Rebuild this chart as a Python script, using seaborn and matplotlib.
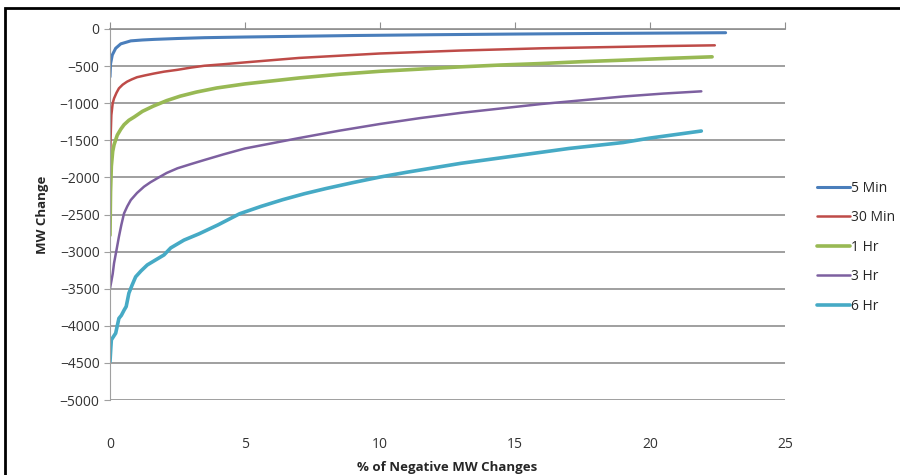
import pandas as pd
import matplotlib.pyplot as plt
import seaborn as sns
from matplotlib.patches import Rectangle

# --- DATA ---
series_names = ["5 Min", "30 Min", "1 Hr", "3 Hr", "6 Hr"]

x_5min = [0, 0.02, 0.085, 0.21, 0.4, 0.77, 1.2, 1.63, 2.5, 3.5, 5, 7, 9, 12, 15, 18, 21, 22.8]
y_5min = [-645, -470, -350, -260, -200, -160, -148, -140, -128, -117, -108, -98, -88, -77, -68, -60,
          -54, -50]

x_30min = [0, 0.02, 0.05, 0.1, 0.15, 0.24, 0.33, 0.47, 0.63, 0.8, 1.0, 1.3, 1.63, 2.0, 2.5, 3.0, 3.5,
           4.2, 5, 6, 7, 8.5, 10, 11.5, 13, 14.5, 16, 17.5, 19, 20.5, 22.4]
y_30min = [-1850, -1500, -1160, -1000, -935, -860, -800, -750, -710, -680, -650, -625, -600, -575,
           -550, -520, -495, -475, -450, -420, -390, -360, -330, -310, -290, -275, -260, -250, -240,
           -230, -220]

x_1hr = [0, 0.02, 0.05, 0.1, 0.15, 0.27, 0.4, 0.52, 0.7, 0.9, 1.2, 1.6, 2.1, 2.6, 3.2, 3.95, 5, 6,
         7, 8.5, 10, 11.5, 13, 14.5, 16, 17.5, 19, 20.5, 22.3]
y_1hr = [-2780, -2200, -1850, -1650, -1560, -1430, -1350, -1290, -1230, -1185, -1110, -1040, -965,
         -905, -850, -795, -740, -700, -660, -610, -570, -540, -510, -485, -465, -440, -420, -398, -375]

x_3hr = [0, 0.05, 0.1, 0.15, 0.24, 0.33, 0.42, 0.52, 0.64, 0.77, 1.0, 1.26, 1.5, 1.75, 2.1, 2.5, 3.0,
         3.5, 4.2, 5, 6, 7, 8.5, 10, 11.5, 13, 14.5, 16, 17.5, 19, 20.5, 21.9]
y_3hr = [-3495, -3400, -3300, -3155, -2980, -2800, -2640, -2485, -2390, -2305, -2210, -2125, -2065,
         -2012, -1940, -1877, -1820, -1765, -1690, -1610, -1540, -1470, -1370, -1280, -1200, -1130,
         -1070, -1010, -960, -910, -870, -840]

x_6hr = [0, 0.03, 0.05, 0.12, 0.21, 0.33, 0.42, 0.52, 0.6, 0.7, 0.82, 0.95, 1.15, 1.38, 1.7, 2.0, 2.25,
         2.74, 3.3, 4.0, 4.8, 5.6, 6.4, 7.2, 8, 9, 10, 11, 12, 13, 14, 15, 16, 17, 18, 19, 20, 21, 21.9]
y_6hr = [-4483, -4300, -4190, -4150, -4100, -3900, -3860, -3790, -3740, -3560, -3450, -3340, -3260,
         -3180, -3110, -3045, -2950, -2845, -2760, -2640, -2490, -2390, -2300, -2220, -2150, -2070,
         -1995, -1930, -1870, -1810, -1760, -1710, -1660, -1610, -1570, -1530, -1470, -1420, -1375]

x_ticks = [0, 5, 10, 15, 20, 25]
y_ticks = list(range(-5000, 1, 500))

# --- STYLE ---
colors = {"5 Min": "#4A7EBB", "30 Min": "#BE4B48", "1 Hr": "#98B954",
          "3 Hr": "#7D60A0", "6 Hr": "#46AAC5"}
widths = {"5 Min": 2.2, "30 Min": 1.8, "1 Hr": 2.6, "3 Hr": 1.8, "6 Hr": 2.6}

xs = [x_5min, x_30min, x_1hr, x_3hr, x_6hr]
ys = [y_5min, y_30min, y_1hr, y_3hr, y_6hr]
frames = [pd.DataFrame({"x": x, "y": y, "series": name}) for name, x, y in zip(series_names, xs, ys)]
df = pd.concat(frames, ignore_index=True)

sns.set_style("white")
plt.rcParams['font.family'] = ['Open Sans', 'DejaVu Sans']

fig = plt.figure(figsize=(9, 4.75), dpi=100)
ax = fig.add_axes([110 / 900, 1 - 400 / 475, 675 / 900, 371 / 475])

for name in series_names:
    sns.lineplot(data=df[df["series"] == name], x="x", y="y", ax=ax, color=colors[name],
                 linewidth=widths[name], label=name, sort=False, estimator=None)

ax.set_xlim(0, 25)
ax.set_ylim(-5000, 0)
ax.set_xticks(x_ticks)
ax.set_yticks(y_ticks)
ax.grid(axis="y", color="#8f8f8f", linewidth=1.2)
ax.grid(axis="x", visible=False)

for side in ["right", "bottom"]:
    ax.spines[side].set_visible(False)
ax.spines["left"].set_color("#a0a0a0")
ax.spines["top"].set_color("#8f8f8f")
ax.spines["top"].set_linewidth(1.2)

ax.tick_params(axis="x", top=True, bottom=False, labeltop=False, labelbottom=True,
               direction="out", length=5, color="#8f8f8f", pad=22, labelsize=10, labelcolor="#333333")
ax.tick_params(axis="y", left=True, direction="out", length=4, color="#a0a0a0",
               labelsize=10, labelcolor="#333333")

ax.set_xlabel("% of Negative MW Changes", fontsize=9.5, fontweight="bold", labelpad=6)
ax.set_ylabel("MW Change", fontsize=9.5, fontweight="bold", labelpad=8)

ax.get_legend().remove()
handles, labels = ax.get_legend_handles_labels()
fig.legend(handles, labels, loc="upper left", bbox_to_anchor=(804 / 900, 1 - 168 / 475),
           frameon=False, fontsize=10, labelspacing=1.05, handlelength=2.4, handletextpad=0.1)

# outer frame of the chart area
fig.patches.append(Rectangle((5 / 900, -0.2), 1.2, 1.2 - 8 / 475, transform=fig.transFigure,
                             fill=False, edgecolor="black", linewidth=2, clip_on=False))

plt.savefig("out.png", dpi=100)
